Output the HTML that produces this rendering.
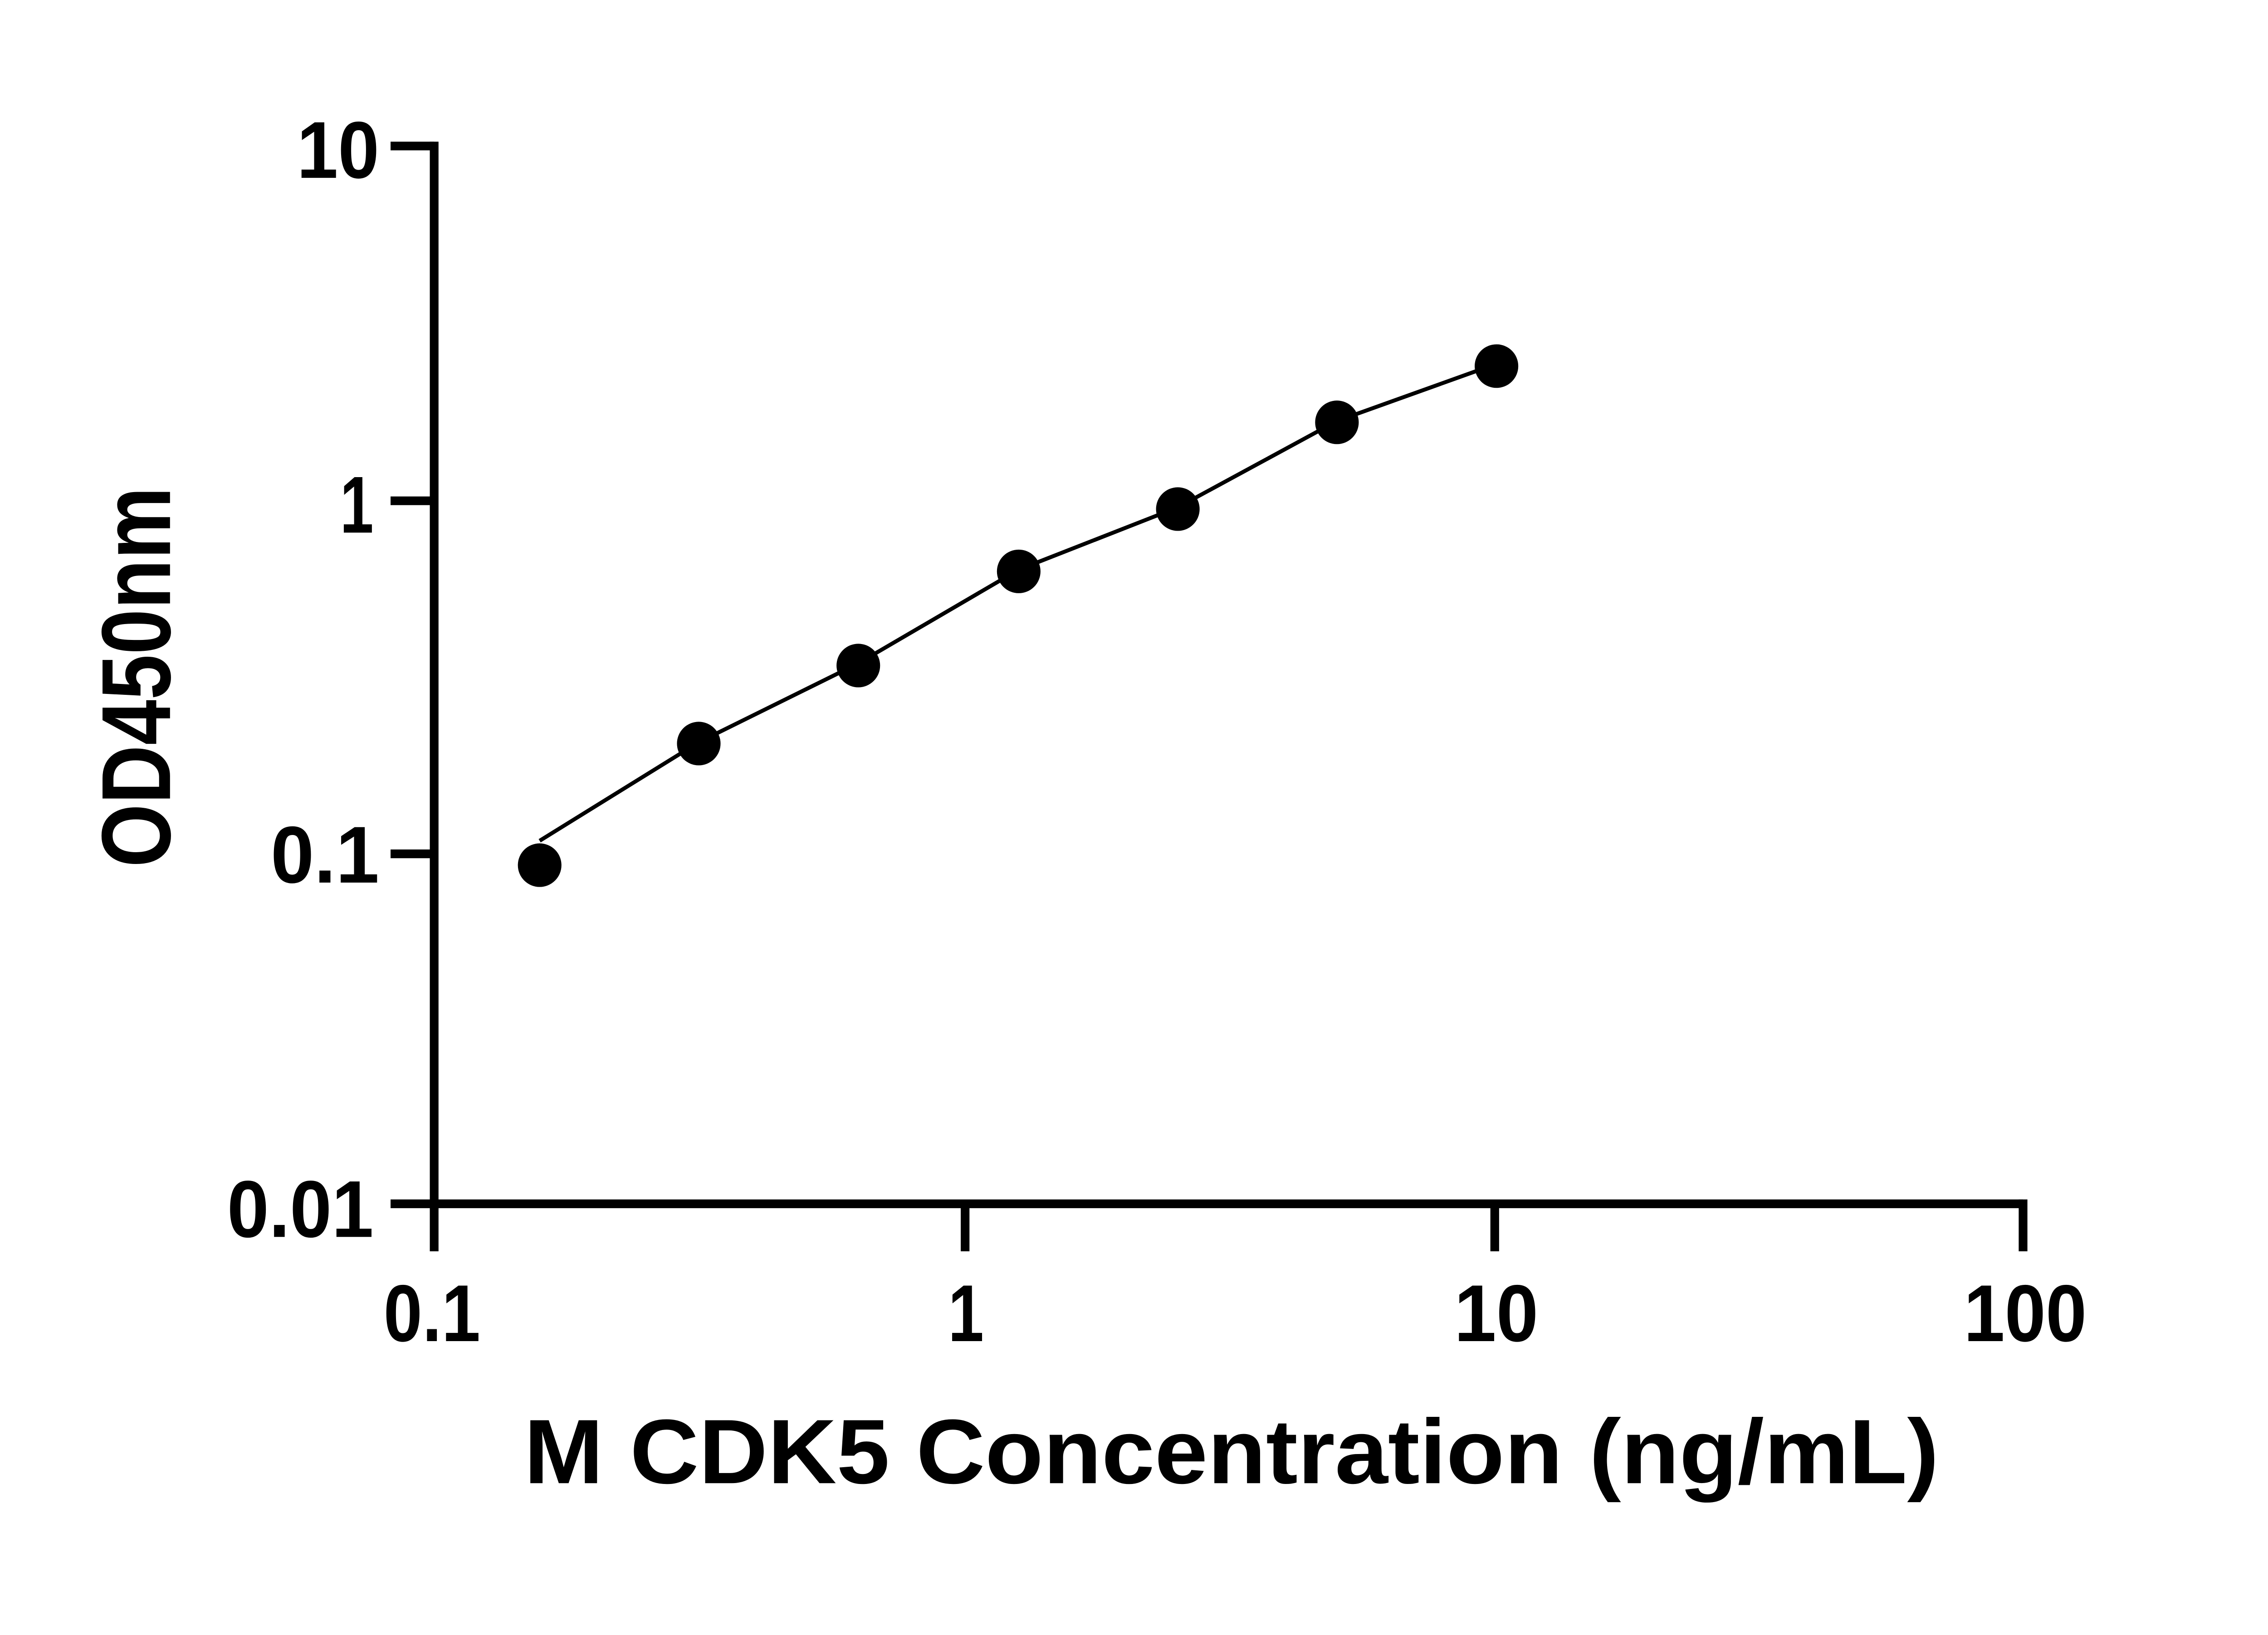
<!DOCTYPE html>
<html><head><style>html,body{margin:0;padding:0;background:#fff}</style></head>
<body>
<svg width="5142" height="3600" viewBox="0 0 5142 3600" xmlns="http://www.w3.org/2000/svg">
<rect width="5142" height="3600" fill="#fff"/>
<g transform="scale(0.961)">
<g stroke="#000" stroke-width="20" fill="none" stroke-linecap="butt">
<line x1="996" y1="325" x2="996" y2="2871"/>
<line x1="986" y1="2762" x2="4641" y2="2762"/>
<line x1="896" y1="335" x2="996" y2="335"/>
<line x1="896" y1="1149" x2="996" y2="1149"/>
<line x1="896" y1="1959" x2="996" y2="1959"/>
<line x1="896" y1="2762" x2="996" y2="2762"/>
<line x1="2214" y1="2762" x2="2214" y2="2871"/>
<line x1="3429" y1="2762" x2="3429" y2="2871"/>
<line x1="4641" y1="2752" x2="4641" y2="2871"/>
</g>
<polyline fill="none" stroke="#000" stroke-width="9" points="1238,1929 1603,1703 1969,1522 2337,1307 2702,1164 3067,966 3410,843"/>
<g fill="#000">
<circle cx="1238" cy="1985" r="50"/>
<circle cx="1603" cy="1706" r="50"/>
<circle cx="1969" cy="1527" r="50"/>
<circle cx="2337" cy="1311" r="50"/>
<circle cx="2702" cy="1168" r="50"/>
<circle cx="3067" cy="969" r="50"/>
<circle cx="3433" cy="840" r="50"/>
</g>
<g font-family="Liberation Sans, sans-serif" font-weight="bold" font-size="185" fill="#000">
<text x="681" y="408" textLength="189" lengthAdjust="spacingAndGlyphs">10</text>
<text x="780" y="1222" textLength="77" lengthAdjust="spacingAndGlyphs">1</text>
<text x="621" y="2025" textLength="249" lengthAdjust="spacingAndGlyphs">0.1</text>
<text x="521" y="2838" textLength="336" lengthAdjust="spacingAndGlyphs">0.01</text>
<text x="880" y="3077" textLength="222" lengthAdjust="spacingAndGlyphs">0.1</text>
<text x="2175" y="3077" textLength="82" lengthAdjust="spacingAndGlyphs">1</text>
<text x="3336" y="3077" textLength="193" lengthAdjust="spacingAndGlyphs">10</text>
<text x="4505" y="3077" textLength="282" lengthAdjust="spacingAndGlyphs">100</text>
</g>
<text x="1202" y="3403" font-family="Liberation Sans, sans-serif" font-weight="bold" font-size="210" textLength="3246" lengthAdjust="spacingAndGlyphs">M CDK5 Concentration (ng/mL)</text>
<text transform="translate(390,1990) rotate(-90)" x="0" y="0" font-family="Liberation Sans, sans-serif" font-weight="bold" font-size="225" textLength="873" lengthAdjust="spacingAndGlyphs">OD450nm</text>
</g>
</svg>
</body></html>
